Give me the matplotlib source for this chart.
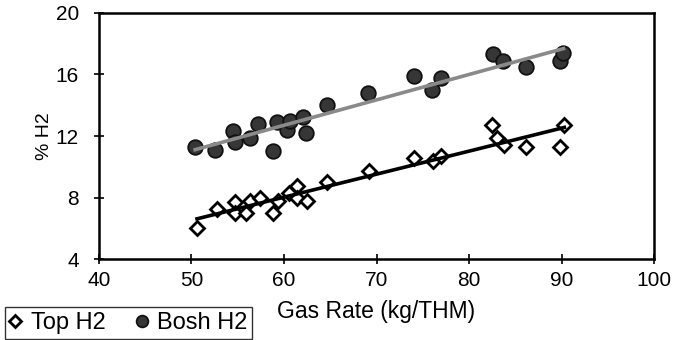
import numpy as np
import matplotlib
matplotlib.use("Agg")
import matplotlib.pyplot as plt

plt.rcParams['font.family'] = ['Liberation Sans', 'DejaVu Sans']

# gas rate (kg/THM) and % H2
top_x = [50.6, 52.8, 54.7, 54.7, 55.9, 56.3, 57.4, 58.8, 59.4, 60.5, 61.4, 61.4,
         62.5, 64.7, 69.2, 74.1, 76.1, 77.0, 82.5, 83.0, 83.8, 86.1, 89.8, 90.3]
top_y = [6.0, 7.25, 7.7, 7.0, 7.0, 7.8, 8.0, 7.0, 7.8, 8.3, 8.75, 7.95,
         7.8, 9.0, 9.7, 10.55, 10.4, 10.7, 12.7, 11.85, 11.4, 11.3, 11.3, 12.7]

bosh_x = [50.4, 52.5, 54.5, 54.7, 56.3, 57.2, 58.8, 59.2, 60.3, 60.6, 62.1, 62.4,
          64.6, 69.1, 74.0, 76.0, 77.0, 82.6, 83.7, 86.1, 89.8, 90.2]
bosh_y = [11.3, 11.1, 12.3, 11.6, 11.85, 12.8, 11.0, 12.9, 12.4, 13.0, 13.25, 12.2,
          14.0, 14.8, 15.9, 15.0, 15.75, 17.3, 16.85, 16.5, 16.9, 17.4]

xticks = [40, 50, 60, 70, 80, 90, 100]
yticks = [4, 8, 12, 16, 20]


def trend(x, y):
    k, b = np.polyfit(x, y, 1)
    xs = np.array([min(x), max(x)])
    return xs, k * xs + b


fig = plt.figure(figsize=(6.73, 3.40), dpi=100)
ax = fig.add_axes([0.147, 0.238, 0.825, 0.724])

tx, ty = trend(top_x, top_y)
bx, by = trend(bosh_x, bosh_y)

ax.plot(top_x, top_y, linestyle='none', marker='D', markersize=7.5,
        markerfacecolor='white', markeredgecolor='black', markeredgewidth=2,
        label='Top H2', zorder=3)
ax.plot(bosh_x, bosh_y, linestyle='none', marker='o', markersize=10.5,
        markerfacecolor='#363636', markeredgecolor='#111111', markeredgewidth=1.3,
        label='Bosh H2', zorder=3)
ax.plot(tx, ty, color='black', linewidth=2.6, zorder=4)
ax.plot(bx, by, color='#8a8a8a', linewidth=2.6, zorder=4)

ax.set_xlim(40, 100)
ax.set_ylim(4, 20)
ax.set_xticks(xticks)
ax.set_yticks(yticks)
ax.tick_params(direction='inout', length=7, width=1.2, labelsize=15)
ax.tick_params(axis='x', pad=5)
ax.tick_params(axis='y', pad=11)
for s in ax.spines.values():
    s.set_linewidth(1.8)

ax.set_xlabel('Gas Rate (kg/THM)', fontsize=16.5, labelpad=7)
ax.set_ylabel('% H2', fontsize=14, labelpad=2)

leg = fig.legend(loc='lower left', bbox_to_anchor=(0.007, 0.004), ncol=2,
                 fontsize=17, frameon=True, fancybox=False, handlelength=0.5,
                 handletextpad=0.4, columnspacing=1.3, borderpad=0.2,
                 borderaxespad=0, markerscale=0.8)
leg.get_frame().set_edgecolor('black')
leg.get_frame().set_linewidth(1.0)

fig.savefig('out.png', dpi=100)
